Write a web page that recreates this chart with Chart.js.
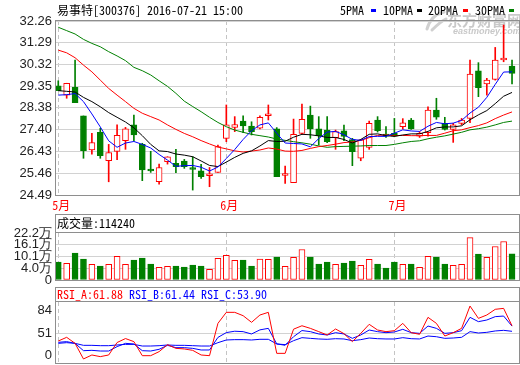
<!DOCTYPE html>
<html><head><meta charset="utf-8">
<script src="https://cdn.jsdelivr.net/npm/chart.js@4/dist/chart.umd.min.js"></script>
<style>
html,body{margin:0;padding:0;background:#fff;}
#wrap{position:relative;width:520px;height:365px;overflow:hidden;background:#fff;}
canvas{position:absolute;left:0;}
</style></head><body>
<div id="wrap">
<canvas id="main" style="top:0" width="520" height="214"></canvas>
<canvas id="vol" style="top:214px" width="520" height="70"></canvas>
<canvas id="rsi" style="top:287px" width="520" height="78"></canvas>
</div>
<script>
// ---------------- data ----------------
const stockName = '易事特';
const stockCode = '300376';
const stamp = '2016-07-21 15:00';
const dates = ['2016-05-04','2016-05-05','2016-05-06','2016-05-09','2016-05-10','2016-05-11','2016-05-12','2016-05-13','2016-05-16','2016-05-17','2016-05-18','2016-05-19','2016-05-20','2016-05-23','2016-05-24','2016-05-25','2016-05-26','2016-05-27','2016-05-30','2016-05-31',
'2016-06-01','2016-06-02','2016-06-03','2016-06-06','2016-06-07','2016-06-08','2016-06-13','2016-06-14','2016-06-15','2016-06-16','2016-06-17','2016-06-20','2016-06-21','2016-06-22','2016-06-23','2016-06-24','2016-06-27','2016-06-28','2016-06-29','2016-06-30',
'2016-07-01','2016-07-04','2016-07-05','2016-07-06','2016-07-07','2016-07-08','2016-07-11','2016-07-12','2016-07-13','2016-07-14','2016-07-15','2016-07-18','2016-07-19','2016-07-20','2016-07-21'];
const monthTickIdx = [0, 20, 40];
const monthLabels = ['5月', '6月', '7月'];

const open = [29.36,28.95,29.30,28.02,26.50,27.29,26.02,26.44,26.92,27.62,
26.75,25.62,25.08,25.98,25.90,26.01,25.66,25.57,25.35,25.50,
27.02,27.51,27.79,27.57,27.47,28.03,27.44,25.36,25.04,27.24,
28.06,27.44,27.39,27.05,27.35,26.97,26.13,26.62,27.84,27.17,
27.24,27.54,27.84,27.12,27.27,28.28,27.69,27.42,27.69,27.91,
30.03,29.45,29.65,30.52,30.25];
const high = [29.59,29.48,30.52,28.02,27.24,27.47,26.75,27.62,27.51,28.06,
26.80,26.44,25.87,26.20,26.53,26.08,26.20,25.86,25.72,26.72,
28.51,27.99,28.02,27.76,28.02,28.51,27.50,25.78,27.88,28.55,
28.46,27.99,27.99,27.39,27.61,27.02,26.97,27.79,27.99,27.54,
27.91,27.90,27.91,27.32,28.43,28.81,27.96,27.69,27.91,30.52,
30.40,29.70,31.08,32.08,30.52];
const low = [29.15,28.81,28.61,26.13,26.31,26.13,25.08,26.07,26.53,26.90,
25.13,25.50,24.97,25.87,25.49,25.68,24.71,25.23,24.86,25.50,
26.87,27.32,27.27,27.17,27.44,27.84,25.31,25.01,25.04,27.21,
27.02,26.72,26.83,26.53,26.92,25.80,26.02,26.53,27.30,27.06,
27.09,27.44,27.42,27.06,27.12,27.87,27.39,26.84,27.62,27.72,
28.88,28.95,29.62,30.44,29.45];
const close = [29.15,29.48,28.61,26.47,26.83,26.25,26.38,27.15,27.44,27.17,
25.61,25.56,25.72,26.20,25.75,25.75,25.63,25.31,25.38,26.65,
27.62,27.64,27.58,27.32,27.96,28.06,25.31,25.40,27.20,27.87,
27.44,27.14,26.87,27.32,27.11,26.42,26.95,27.69,27.36,27.12,
27.12,27.71,27.44,27.24,28.28,27.96,27.42,27.62,27.84,29.89,
29.28,29.62,30.52,30.59,29.92];

const ma5 = [28.95,28.97,29.02,28.66,28.11,27.53,26.91,26.62,26.81,26.88,
26.75,26.59,26.30,26.05,25.77,25.80,25.81,25.73,25.56,25.74,
26.12,26.52,26.97,27.36,27.62,27.71,27.25,26.81,26.79,26.77,
26.64,27.01,27.30,27.33,27.18,26.97,26.93,27.10,27.11,27.11,
27.25,27.40,27.35,27.33,27.56,27.73,27.67,27.70,27.82,28.15,
28.41,28.85,29.43,29.98,29.99];
const ma10 = [29.15,29.12,29.09,28.85,28.66,28.43,28.17,27.96,27.75,27.49,
27.14,26.75,26.46,26.43,26.32,26.27,26.20,26.01,25.81,25.76,
25.96,26.17,26.35,26.46,26.68,26.92,26.88,26.89,27.07,27.20,
27.18,27.13,27.06,27.06,26.97,26.81,26.97,27.20,27.22,27.14,
27.11,27.17,27.22,27.22,27.33,27.49,27.53,27.53,27.58,27.85,
28.07,28.26,28.57,28.90,29.07];
const ma20 = [30.96,30.84,30.62,30.29,29.99,29.62,29.25,28.95,28.66,28.36,
28.14,27.99,27.84,27.62,27.42,27.24,27.09,26.92,26.77,26.63,
26.55,26.46,26.41,26.45,26.50,26.59,26.54,26.45,26.44,26.48,
26.57,26.65,26.70,26.76,26.83,26.86,26.93,27.05,27.15,27.17,
27.14,27.15,27.14,27.14,27.15,27.15,27.25,27.36,27.40,27.50,
27.59,27.71,27.90,28.06,28.20];
const ma30 = [31.98,31.83,31.68,31.44,31.26,31.11,30.89,30.70,30.49,30.19,
30.04,29.85,29.59,29.34,29.03,28.68,28.44,28.21,27.96,27.73,
27.54,27.39,27.29,27.20,27.14,27.08,26.99,26.93,26.87,26.82,
26.76,26.68,26.62,26.65,26.66,26.67,26.68,26.70,26.70,26.70,
26.75,26.82,26.88,26.91,27.00,27.07,27.13,27.21,27.29,27.40,
27.45,27.52,27.62,27.73,27.79];

// volume in 万 (10k shares)
const volume = [7.17,6.50,11.79,8.71,5.99,5.12,5.99,10.09,5.99,8.20,
9.22,6.14,4.45,4.96,5.12,4.60,5.63,5.12,3.42,9.07,
10.61,8.04,8.20,5.12,8.71,8.55,9.73,4.96,9.58,13.68,
9.73,6.14,7.17,5.99,6.66,7.68,5.48,8.55,6.14,4.09,
7.17,5.99,6.14,4.45,10.09,9.73,6.14,5.48,5.99,19.84,
11.27,9.58,15.22,17.79,11.424];

const rsiA = [39.7,45.1,36.3,13.5,19.3,16.9,19.3,37.5,43.3,38.8,
18.3,18.3,24.2,34.4,29.0,28.1,26.1,19.3,18.3,65.5,
81.6,81.6,76.7,67.0,77.7,81.6,21.7,21.7,57.0,62.0,
58.2,53.4,48.5,57.3,50.5,38.8,50.9,64.1,55.8,53.4,
54.8,65.5,51.9,49.5,74.3,65.5,47.0,51.9,58.2,90.8,
72.8,77.7,86.0,87.4,61.88];
const rsiB = [37.8,38.8,36.3,25.6,26.1,25.1,25.1,31.5,36.3,35.4,
25.6,25.1,27.6,33.4,30.0,30.0,29.0,26.6,26.6,45.0,
52.0,54.0,53.4,50.0,56.0,58.2,35.5,33.5,46.0,55.0,
53.4,50.0,48.5,51.9,50.0,43.6,48.5,55.8,53.4,51.9,
52.9,56.8,51.9,50.9,61.6,58.2,50.9,51.9,54.8,74.3,
68.0,70.4,75.3,76.2,61.44];
const rsiC = [36.3,37.3,36.3,33.4,33.4,32.9,32.9,33.9,34.8,34.8,
32.4,32.4,32.9,33.9,33.4,33.4,32.9,32.4,32.4,37.3,
41.2,41.7,41.7,41.2,42.2,42.2,35.4,34.4,40.2,44.6,
43.6,42.7,42.2,43.1,42.7,40.2,41.7,44.1,43.1,42.7,
42.7,44.6,43.1,42.7,47.0,46.0,43.6,44.1,45.1,53.4,
51.4,52.4,54.4,55.3,53.90];

const priceTicks = [24.49,25.46,26.43,27.40,28.38,29.35,30.32,31.29,32.26];
const priceTickLabels = ['24.49','25.46','26.43','27.40','28.38','29.35','30.32','31.29','32.26'];
const volTicks = [-2.07,4.0,10.1,16.1,22.2];
const volTickLabels = ['0','4.0万','10.1万','16.1万','22.2万'];
const rsiTicks = [18,51,84];
const rsiTickLabels = ['0','51','84'];
const maNames = ['5PMA','10PMA','20PMA','30PMA'];

// ---------------- styling ----------------
const RED = '#ff0000', GREEN = '#008000', BLUE = '#0000ff', BLACK = '#000000';
const GRID = '#d2d2d2', FRAME = '#8e8e8e', DASH = '#c4c4c4';
const AXIS_FONT = { family: '"Liberation Sans Narrow", "Liberation Sans", Arial, sans-serif', size: 13 };
const CJK = '"Noto Sans Mono CJK SC", "Noto Sans CJK SC", sans-serif';
const TXT_FONT = '12px ' + CJK;
const X_MIN = -0.27, X_MAX = 54.83;

const idx = dates.map((d, i) => i);
const isUp = close.map((c, i) => c >= open[i]);
const pts = arr => idx.map(i => ({ x: i, y: arr[i] }));

function yAxis(min, max, ticks, labels, gridColor) {
  return {
    type: 'linear', position: 'left', min, max,
    afterBuildTicks: ax => { ax.ticks = ticks.map(v => ({ value: v })); },
    afterFit: ax => { ax.width = 56; ax.paddingTop = 0; ax.paddingBottom = 0; },
    ticks: { autoSkip: false, padding: 4, color: '#222', font: AXIS_FONT, callback: (v, i) => labels[i] },
    grid: { drawTicks: false, color: gridColor, lineWidth: 1 },
    border: { display: false }
  };
}
function xAxis(height, showLabels) {
  return {
    type: 'linear', position: 'bottom', min: X_MIN, max: X_MAX, offset: false,
    afterBuildTicks: ax => { ax.ticks = monthTickIdx.map(v => ({ value: v })); },
    afterFit: ax => { ax.height = height; ax.paddingLeft = 0; ax.paddingRight = 0; },
    ticks: { display: showLabels, autoSkip: false, maxRotation: 0, minRotation: 0, padding: 3, labelOffset: 3,
             color: RED, font: { family: CJK, size: 12 }, callback: (v, i) => monthLabels[i] },
    grid: { drawTicks: false, color: DASH, lineWidth: 1, offset: false },
    border: { display: false, dash: [4, 3] }
  };
}
const baseOpts = (padTop) => ({
  responsive: false, animation: false, events: [],
  layout: { padding: { top: padTop, right: 1, left: 0, bottom: 0 } },
  plugins: { legend: { display: false }, tooltip: { enabled: false } }
});

function drawFrame(chart, boxTop) {
  const { ctx, chartArea: a } = chart;
  ctx.save();
  ctx.strokeStyle = FRAME; ctx.lineWidth = 1;
  const t = boxTop == null ? a.top - 0.5 : boxTop;
  ctx.strokeRect(55.5, t, 464, a.bottom + 0.5 - t);
  if (boxTop != null) {
    ctx.beginPath(); ctx.moveTo(55.5, a.top - 0.5); ctx.lineTo(519.5, a.top - 0.5); ctx.stroke();
  }
  ctx.restore();
}

// ---------------- main price chart ----------------
const mainDeco = {
  id: 'mainDeco',
  beforeDatasetsDraw(chart) {
    const ctx = chart.ctx;
    ctx.save();
    ctx.strokeStyle = '#d0d0d0'; ctx.lineWidth = 3; ctx.lineCap = 'round';
    ctx.beginPath(); ctx.moveTo(427, 29); ctx.quadraticCurveTo(431, 15, 444, 12); ctx.stroke();
    ctx.beginPath(); ctx.moveTo(432, 30); ctx.quadraticCurveTo(440, 22, 446, 19); ctx.stroke();
    ctx.fillStyle = '#c9c9c9';
    ctx.font = 'bold 15px "Noto Sans CJK SC", sans-serif';
    ctx.textBaseline = 'middle'; ctx.textAlign = 'left';
    ctx.fillText('东方财富网', 447, 20);
    ctx.font = 'italic bold 9px "Liberation Sans", sans-serif';
    ctx.fillText('eastmoney.com', 453, 32);
    ctx.restore();
  },
  afterDraw(chart) {
    drawFrame(chart, null);
    const ctx = chart.ctx;
    ctx.save();
    ctx.font = TXT_FONT; ctx.textBaseline = 'middle'; ctx.textAlign = 'left';
    ctx.fillStyle = '#000';
    ctx.fillText(stockName + '[' + stockCode + '] ' + stamp, 57, 10);
    const tx = [340, 383, 428, 475], sx = [371, 417, 463, 509], cols = [BLUE, BLACK, RED, GREEN];
    maNames.forEach((n, i) => {
      ctx.fillStyle = '#000'; ctx.fillText(n, tx[i], 10);
      ctx.fillStyle = cols[i]; ctx.fillRect(sx[i], 9, 5, 3);
    });
    ctx.restore();
  }
};

new Chart(document.getElementById('main'), {
  type: 'bar',
  data: {
    labels: dates,
    datasets: [
      { type: 'line', label: maNames[0], data: pts(ma5), borderColor: BLUE, borderWidth: 1, pointRadius: 0, tension: 0, order: 0 },
      { type: 'line', label: maNames[1], data: pts(ma10), borderColor: BLACK, borderWidth: 1, pointRadius: 0, tension: 0, order: 0 },
      { type: 'line', label: maNames[2], data: pts(ma20), borderColor: RED, borderWidth: 1, pointRadius: 0, tension: 0, order: 0 },
      { type: 'line', label: maNames[3], data: pts(ma30), borderColor: GREEN, borderWidth: 1, pointRadius: 0, tension: 0, order: 0 },
      { type: 'bar', label: 'body', data: idx.map(i => ({ x: i, y: [open[i], close[i]] })),
        backgroundColor: isUp.map(u => u ? '#ffffff' : GREEN), borderColor: isUp.map(u => u ? RED : GREEN),
        borderWidth: 1, borderSkipped: false, barThickness: 6, minBarLength: 2, grouped: false, order: 1 },
      { type: 'bar', label: 'wick', data: idx.map(i => ({ x: i, y: [low[i], high[i]] })),
        backgroundColor: isUp.map(u => u ? RED : GREEN), borderWidth: 0, barThickness: 1, grouped: false, order: 2 }
    ]
  },
  options: Object.assign(baseOpts(21), {
    scales: { x: xAxis(19, true), y: yAxis(24.49, 32.26, priceTicks, priceTickLabels, () => GRID) }
  }),
  plugins: [mainDeco]
});

// ---------------- volume chart ----------------
const volDeco = {
  id: 'volDeco',
  afterDraw(chart) {
    drawFrame(chart, 0.5);
    const ctx = chart.ctx;
    ctx.save();
    ctx.font = TXT_FONT; ctx.textBaseline = 'middle'; ctx.textAlign = 'left'; ctx.fillStyle = '#000';
    ctx.fillText('成交量:' + Math.round(volume[volume.length - 1] * 10000), 57, 9);
    ctx.restore();
  }
};
new Chart(document.getElementById('vol'), {
  type: 'bar',
  data: {
    labels: dates,
    datasets: [{
      label: '成交量', data: pts(volume), base: volTicks[0],
      backgroundColor: isUp.map(u => u ? '#ffffff' : GREEN), borderColor: isUp.map(u => u ? RED : GREEN),
      borderWidth: 1, borderSkipped: false, barThickness: 6, grouped: false
    }]
  },
  options: Object.assign(baseOpts(19), {
    scales: {
      x: xAxis(4, false),
      y: yAxis(volTicks[0], volTicks[volTicks.length - 1], volTicks, volTickLabels,
               c => (c.index === 0 || c.index === volTicks.length - 1) ? 'rgba(0,0,0,0)' : GRID)
    }
  }),
  plugins: [volDeco]
});

// ---------------- RSI chart ----------------
const rsiDeco = {
  id: 'rsiDeco',
  afterDraw(chart) {
    drawFrame(chart, 0.5);
    const ctx = chart.ctx;
    ctx.save();
    ctx.font = TXT_FONT; ctx.textBaseline = 'middle'; ctx.textAlign = 'left';
    const last = a => a[a.length - 1].toFixed(2);
    ctx.fillStyle = RED; ctx.fillText('RSI_A:' + last(rsiA), 57, 7);
    ctx.fillStyle = BLUE; ctx.fillText('RSI_B:' + last(rsiB), 129, 7);
    ctx.fillText('RSI_C:' + last(rsiC), 201, 7);
    ctx.restore();
  }
};
new Chart(document.getElementById('rsi'), {
  type: 'line',
  data: {
    labels: dates,
    datasets: [
      { label: 'RSI_A', data: pts(rsiA), borderColor: RED, borderWidth: 1, pointRadius: 0, tension: 0 },
      { label: 'RSI_B', data: pts(rsiB), borderColor: BLUE, borderWidth: 1, pointRadius: 0, tension: 0 },
      { label: 'RSI_C', data: pts(rsiC), borderColor: BLUE, borderWidth: 1, pointRadius: 0, tension: 0 }
    ]
  },
  options: Object.assign(baseOpts(15), {
    scales: {
      x: xAxis(2, false),
      y: yAxis(7.6, 96.7, rsiTicks, rsiTickLabels, c => c.index === 1 ? GRID : 'rgba(0,0,0,0)')
    }
  }),
  plugins: [rsiDeco]
});
</script>
</body></html>
